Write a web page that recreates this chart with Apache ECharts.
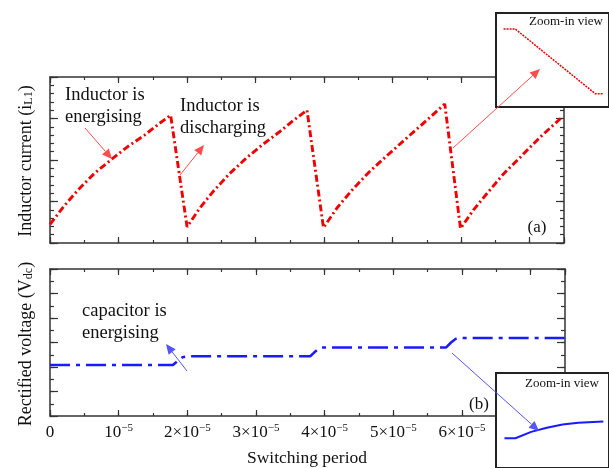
<!DOCTYPE html>
<html>
<head>
<meta charset="utf-8">
<script src="https://cdn.jsdelivr.net/npm/echarts@6/dist/echarts.min.js"></script>
<style>
  html, body { margin: 0; padding: 0; background: #fff; }
  #chart { width: 609px; height: 468px; }
</style>
</head>
<body>
<div id="chart"></div>
<script>
// Time is stored in units of 1e-5 s (switching period axis).
const currentTime = [0, 0.20, 0.41, 0.65, 0.90, 1.14, 1.38, 1.58, 1.76,
  2.00, 2.19, 2.38, 2.62, 2.86, 3.10, 3.35, 3.55, 3.75,
  3.99, 4.19, 4.41, 4.65, 4.90, 5.15, 5.39, 5.58, 5.76,
  5.99, 6.18, 6.38, 6.62, 6.87, 7.15, 7.45];
const currentValue = [0.45, 0.88, 1.28, 1.68, 2.02, 2.33, 2.60, 2.86, 3.08,
  0.39, 0.85, 1.24, 1.67, 2.04, 2.37, 2.68, 2.95, 3.20,
  0.37, 0.85, 1.28, 1.70, 2.08, 2.45, 2.80, 3.08, 3.35,
  0.35, 0.80, 1.20, 1.67, 2.08, 2.55, 3.00];

const voltageTime = [0, 1.79, 1.86, 1.93, 2.00, 3.79, 3.85, 3.92, 3.98, 5.77, 5.84, 5.91, 5.97, 7.5];
const voltageValue = [2.08, 2.08, 2.25, 2.40, 2.44, 2.44, 2.60, 2.76, 2.80, 2.80, 3.00, 3.15, 3.18, 3.18];

// Magnified views (normalised coordinates inside each inset box)
const zoomCurrentTime = [0.067, 0.17, 0.88, 0.95];
const zoomCurrentValue = [0.83, 0.83, 0.14, 0.14];
const zoomVoltageTime = [0.075, 0.172, 0.311, 0.45, 0.589, 0.728, 0.95];
const zoomVoltageValue = [0.313, 0.313, 0.38, 0.423, 0.457, 0.477, 0.49];

const xTickLabels = ['0', '10', '2×10', '3×10', '4×10', '5×10', '6×10', '7×10'];

const SERIF = '"Liberation Serif", "Times New Roman", serif';
const FRAME = '#333';
const RED = '#f00000';
const BLUE = '#1a1aff';

const zip = (a, b) => a.map((v, i) => [v, b[i]]);

function frameAxis(grid, position, min, max, interval, len, showLine, labels) {
  return {
    type: 'value', gridIndex: grid, position: position, min: min, max: max, interval: interval,
    axisLine: { show: showLine, onZero: false, lineStyle: { color: FRAME, width: 1.5 } },
    axisTick: { show: true, inside: true, length: len, lineStyle: { color: FRAME, width: 1.2 } },
    axisLabel: labels || { show: false },
    splitLine: { show: false }
  };
}
function hiddenAxis(grid) {
  return { type: 'value', gridIndex: grid, min: 0, max: 1, show: false, splitLine: { show: false } };
}

const xLabels = {
  show: true, margin: 7,
  formatter: function (v) {
    if (v === 0) return '{b|0}';
    if (Math.abs(v - Math.round(v)) > 1e-9) return '';
    const t = xTickLabels[Math.round(v)];
    return t ? '{b|' + t + '}{s|−5}' : '';
  },
  rich: {
    b: { fontFamily: SERIF, fontSize: 17, color: '#111', lineHeight: 20 },
    s: { fontFamily: SERIF, fontSize: 11, color: '#111', lineHeight: 11, verticalAlign: 'top' }
  }
};

function arrow(x1, y1, x2, y2, color, w, head, hw) {
  const dx = x2 - x1, dy = y2 - y1, L = Math.hypot(dx, dy);
  const ux = dx / L, uy = dy / L;
  const bx = x2 - ux * head, by = y2 - uy * head;
  return [
    { type: 'line', z: 30, shape: { x1: x1, y1: y1, x2: bx, y2: by }, style: { stroke: color, lineWidth: w } },
    { type: 'polygon', z: 30, shape: { points: [[x2, y2], [bx - uy * hw, by + ux * hw], [bx + uy * hw, by - ux * hw]] },
      style: { fill: color } }
  ];
}
function label(x, y, text, size, align) {
  return { type: 'text', z: 30, x: x, y: y,
    style: { text: text, fontFamily: SERIF, fontSize: size, fill: '#111', align: align || 'left', verticalAlign: 'middle' } };
}

const chart = echarts.init(document.getElementById('chart'), null, { renderer: 'canvas' });

chart.setOption({
  animation: false,
  backgroundColor: '#fff',
  grid: [
    { left: 50, top: 77, width: 514, height: 166 },
    { left: 50, top: 269, width: 515, height: 147 },
    { left: 496, top: 13, width: 120, height: 94, show: true, z: 10, backgroundColor: '#fff', borderColor: '#222', borderWidth: 2 },
    { left: 496, top: 373, width: 120, height: 110, show: true, z: 10, backgroundColor: '#fff', borderColor: '#222', borderWidth: 2 }
  ],
  xAxis: [
    frameAxis(0, 'bottom', 0, 7.5, 1, 6, true),
    frameAxis(0, 'bottom', 0, 7.5, 0.5, 3, false),
    frameAxis(0, 'top', 0, 7.5, 1, 6, true),
    frameAxis(0, 'top', 0, 7.5, 0.5, 3, false),
    frameAxis(1, 'bottom', 0, 7.5, 1, 6, true, xLabels),
    frameAxis(1, 'bottom', 0, 7.5, 0.5, 3, false),
    frameAxis(1, 'top', 0, 7.5, 1, 6, true),
    frameAxis(1, 'top', 0, 7.5, 0.5, 3, false),
    hiddenAxis(2),
    hiddenAxis(3)
  ],
  yAxis: [
    frameAxis(0, 'left', 0, 4, 1, 8, true),
    frameAxis(0, 'left', 0, 4, 0.2, 4, false),
    frameAxis(0, 'right', 0, 4, 1, 8, true),
    frameAxis(0, 'right', 0, 4, 0.2, 4, false),
    frameAxis(1, 'left', 0, 6, 1, 8, true),
    frameAxis(1, 'left', 0, 6, 0.5, 4, false),
    frameAxis(1, 'right', 0, 6, 1, 8, true),
    frameAxis(1, 'right', 0, 6, 0.5, 4, false),
    hiddenAxis(2),
    hiddenAxis(3)
  ],
  series: [
    { name: 'Inductor current', type: 'line', xAxisIndex: 0, yAxisIndex: 0, z: 3,
      data: zip(currentTime, currentValue), showSymbol: false, symbol: 'none',
      lineStyle: { color: RED, width: 2.9, type: [7, 3, 2, 3] } },
    { name: 'Rectified voltage', type: 'line', xAxisIndex: 4, yAxisIndex: 4, z: 3,
      data: zip(voltageTime, voltageValue), showSymbol: false, symbol: 'none',
      lineStyle: { color: BLUE, width: 2.5, type: [20, 6, 4, 6] } },
    { name: 'Inductor current zoom', type: 'line', xAxisIndex: 8, yAxisIndex: 8, z: 12,
      data: zip(zoomCurrentTime, zoomCurrentValue), showSymbol: false, symbol: 'none',
      lineStyle: { color: RED, width: 1.5, type: [2, 1] } },
    { name: 'Rectified voltage zoom', type: 'line', xAxisIndex: 9, yAxisIndex: 9, z: 12,
      data: zip(zoomVoltageTime, zoomVoltageValue), showSymbol: false, symbol: 'none',
      lineStyle: { color: BLUE, width: 2 } }
  ],
  graphic: [
    // axis titles
    { type: 'text', z: 30, x: 26, y: 161, rotation: Math.PI / 2,
      style: { text: 'Inductor current (i{sub|L1})', fontFamily: SERIF, fontSize: 18, fill: '#111',
        align: 'center', verticalAlign: 'middle',
        rich: { sub: { fontFamily: SERIF, fontSize: 12, fill: '#111', verticalAlign: 'bottom', lineHeight: 12, padding: [8, 0, 0, 0] } } } },
    { type: 'text', z: 30, x: 26, y: 344, rotation: Math.PI / 2,
      style: { text: 'Rectified voltage (V{sub|dc})', fontFamily: SERIF, fontSize: 18, fill: '#111',
        align: 'center', verticalAlign: 'middle',
        rich: { sub: { fontFamily: SERIF, fontSize: 12, fill: '#111', verticalAlign: 'bottom', lineHeight: 12, padding: [8, 0, 0, 0] } } } },
    label(307, 458, 'Switching period', 17.5, 'center'),

    // annotations
    label(65, 95, 'Inductor is', 18.5),
    label(65, 117, 'energising', 18.5),
    label(180, 106, 'Inductor is', 18.5),
    label(180, 128, 'discharging', 18.5),
    label(82, 311, 'capacitor is', 18.5),
    label(82, 333, 'energising', 18.5),
    label(537, 228, '(a)', 17, 'center'),
    label(479, 405, '(b)', 17, 'center'),
    label(566, 22, 'Zoom-in view', 13, 'center'),
    label(562, 384, 'Zoom-in view', 13, 'center'),

    ...arrow(85, 128, 112, 159, '#ff4d4d', 1, 10, 4.5),
    ...arrow(180, 175, 204, 145, '#ff4d4d', 1, 10, 4.5),
    ...arrow(187, 371, 166, 344, '#5555ff', 1, 10, 4.5),
    ...arrow(453, 148, 540, 69, '#ff4d4d', 1, 10, 4.5),
    ...arrow(452, 353, 539, 431, '#5555ff', 1, 10, 4.5)
  ]
});
</script>
</body>
</html>
